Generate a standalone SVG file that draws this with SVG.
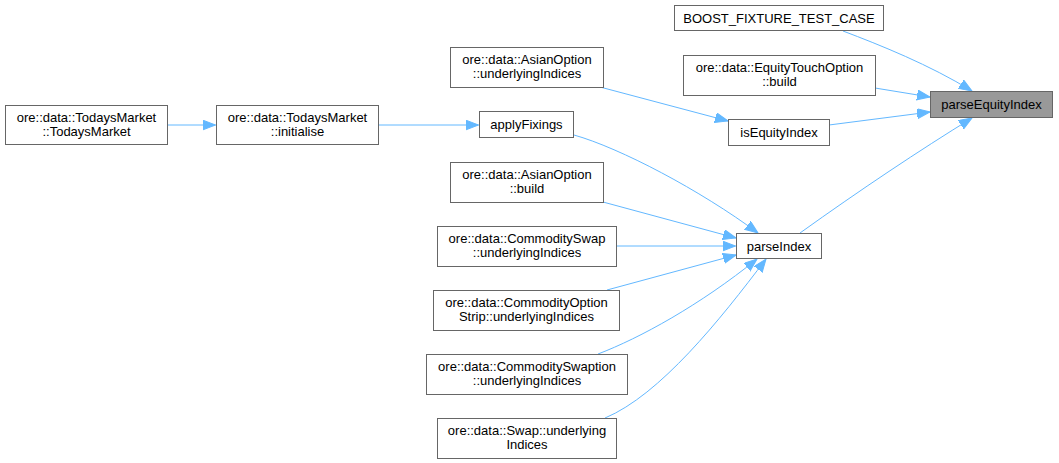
<svg xmlns="http://www.w3.org/2000/svg" width="1059" height="463" viewBox="0 0 1059 463">
<style>
.n rect{fill:#ffffff;stroke:#666666;stroke-width:1}
.n.h rect{fill:#999999}
.n text{font-family:"Liberation Sans",Arial,sans-serif;font-size:13px;fill:#000000;text-anchor:middle}
.e path{fill:none;stroke:#63b8ff;stroke-width:1;marker-end:url(#a)}
</style>
<defs>
<marker id="a" markerUnits="userSpaceOnUse" markerWidth="14" markerHeight="11" refX="13" refY="5" orient="auto">
<path d="M0,0 L13,5 L0,10 z" fill="#63b8ff" stroke="#63b8ff" stroke-width="1"/>
</marker>
</defs>
<g id="connectors" class="e">
<path d="M167.5,125 L215.5,125"/>
<path d="M378.5,125 L478.5,125"/>
<path d="M600,87 L728,121"/>
<path d="M843,31 C880,45 930,65 972,91"/>
<path d="M875,88 L930,97"/>
<path d="M829,125 L930,112"/>
<path d="M800,233 C860,190 920,150 972,118"/>
<path d="M574,135 C620,148 700,190 758,233"/>
<path d="M603,202 L736,238"/>
<path d="M616.5,246 L735.5,246"/>
<path d="M607,290 L736,255"/>
<path d="M598,354 C640,338 700,305 757,259"/>
<path d="M605,418 C660,395 720,320 766,259"/>
</g>
<g id="n_todaysmarket" class="n"><rect x="5.5" y="105.5" width="162" height="39"/><text x="86.5" y="121.5">ore::data::TodaysMarket</text><text x="86.5" y="135.5">::TodaysMarket</text></g>
<g id="n_initialise" class="n"><rect x="216.5" y="105.5" width="162" height="39"/><text x="297.5" y="121.5">ore::data::TodaysMarket</text><text x="297.5" y="135.5">::initialise</text></g>
<g id="n_boost" class="n"><rect x="674.5" y="5.5" width="209" height="25"/><text x="779" y="22.5">BOOST_FIXTURE_TEST_CASE</text></g>
<g id="n_equitytouch" class="n"><rect x="683.5" y="55.5" width="192" height="40"/><text x="779.5" y="72">ore::data::EquityTouchOption</text><text x="779.5" y="86">::build</text></g>
<g id="n_asian_ui" class="n"><rect x="450.5" y="47.5" width="153" height="40"/><text x="527" y="64">ore::data::AsianOption</text><text x="527" y="78">::underlyingIndices</text></g>
<g id="n_parseequityindex" class="n h"><rect x="930.5" y="91.5" width="122" height="26"/><text x="991.5" y="109">parseEquityIndex</text></g>
<g id="n_isequityindex" class="n"><rect x="728.5" y="119.5" width="101" height="26"/><text x="779" y="137">isEquityIndex</text></g>
<g id="n_applyfixings" class="n"><rect x="479.5" y="111.5" width="94" height="26"/><text x="526.5" y="129">applyFixings</text></g>
<g id="n_parseindex" class="n"><rect x="736.5" y="233.5" width="85" height="25"/><text x="779" y="250.5">parseIndex</text></g>
<g id="n_asian_build" class="n"><rect x="450.5" y="162.5" width="153" height="40"/><text x="527" y="179">ore::data::AsianOption</text><text x="527" y="193">::build</text></g>
<g id="n_commodityswap" class="n"><rect x="437.5" y="226.5" width="179" height="40"/><text x="527" y="243">ore::data::CommoditySwap</text><text x="527" y="257">::underlyingIndices</text></g>
<g id="n_commodityoptionstrip" class="n"><rect x="433.5" y="290.5" width="186" height="40"/><text x="526.5" y="307">ore::data::CommodityOption</text><text x="526.5" y="321">Strip::underlyingIndices</text></g>
<g id="n_commodityswaption" class="n"><rect x="426.5" y="354.5" width="201" height="40"/><text x="527" y="371">ore::data::CommoditySwaption</text><text x="527" y="385">::underlyingIndices</text></g>
<g id="n_swap" class="n"><rect x="437.5" y="418.5" width="179" height="40"/><text x="527" y="435">ore::data::Swap::underlying</text><text x="527" y="449">Indices</text></g>
</svg>
